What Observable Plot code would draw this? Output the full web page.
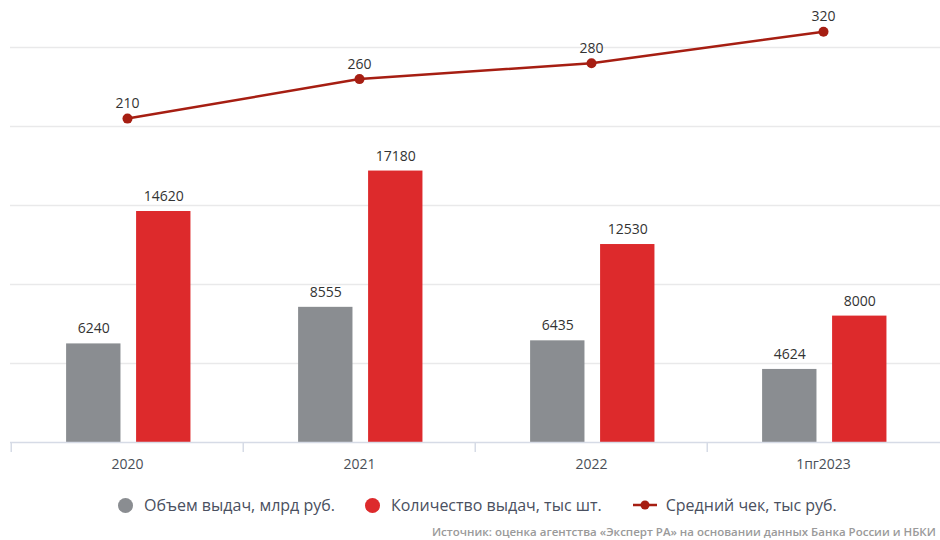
<!DOCTYPE html>
<html>
<head>
<meta charset="utf-8">
<script src="https://cdn.jsdelivr.net/npm/d3@7"></script>
<script src="https://cdn.jsdelivr.net/npm/@observablehq/plot@0.6"></script>
<style>
  body { margin: 0; background: #fff; font-family: "Open Sans", Roboto, sans-serif; }
  #wrap { position: relative; width: 940px; height: 540px; overflow: hidden; }
  #chart { position: absolute; top: 0; left: 0; }
  #legend { position: absolute; top: 494px; left: 118px; display: flex; align-items: center; font-size: 16px; color: #4a5060; white-space: nowrap; }
  .item { display: flex; align-items: center; margin-right: 30px; }
  .dot { width: 15px; height: 15px; border-radius: 50%; margin-right: 11px; }
  #source { position: absolute; top: 524px; left: 432px; font-size: 11.5px; color: #9a9a9a; white-space: nowrap; font-weight: 600; }
</style>
</head>
<body>
<div id="wrap">
  <div id="chart"></div>
  <div id="legend"></div>
  <div id="source">Источник: оценка агентства «Эксперт РА» на основании данных Банка России и НБКИ</div>
</div>
<script>
const years = ["2020", "2021", "2022", "1пг2023"];
const volume = [6240, 8555, 6435, 4624];      // Объем выдач, млрд руб.
const count = [14620, 17180, 12530, 8000];    // Количество выдач, тыс шт.
const avgCheck = [210, 260, 280, 320];        // Средний чек, тыс руб.
const seriesNames = ["Объем выдач, млрд руб.", "Количество выдач, тыс шт.", "Средний чек, тыс руб."];
const colors = ["#8a8d91", "#dd2a2c", "#a61e12"];
const gridTicks = [5000, 10000, 15000, 20000, 25000];

// secondary (hidden) axis for the average check, mapped onto the primary scale
const avgScale = d3.scaleLinear().domain([-200, 350]).range([0, 27500]);

const volData = years.map((y, i) => ({year: y, value: volume[i]}));
const cntData = years.map((y, i) => ({year: y, value: count[i]}));
const avgData = years.map((y, i) => ({year: y, value: avgCheck[i], pos: avgScale(avgCheck[i])}));

const W = 940, H = 482, mL = 10, mR = 0;
const band = (W - mL - mR) / years.length;

const font = "'Open Sans', Roboto, sans-serif";
const plot = Plot.plot({
  width: W,
  height: H,
  marginLeft: mL,
  marginRight: mR,
  marginTop: 47,
  marginBottom: 40,
  style: {fontFamily: font, background: "#fff"},
  x: {domain: years, padding: 0, axis: null},
  y: {domain: [0, 25000], axis: null},
  marks: [
    Plot.ruleY(gridTicks, {stroke: "#e9e9ea", strokeWidth: 1.5}),
    Plot.barY(volData, {x: "year", y: "value", fill: colors[0], insetLeft: band * 0.237, insetRight: band * 0.527}),
    Plot.barY(cntData, {x: "year", y: "value", fill: colors[1], insetLeft: band * 0.538, insetRight: band * 0.226}),
    Plot.ruleY([0], {stroke: "#d6dbe6", strokeWidth: 1.5}),
    Plot.axisX({tickSize: 10, stroke: "#d6dbe6", strokeWidth: 1.5, text: null, label: null, dx: -band / 2}),
    Plot.axisX({tickSize: 0, tickPadding: 17, fontSize: 14, fill: "#4a4f58", label: null}),
    Plot.text(volData, {x: "year", y: "value", text: d => String(d.value), dx: (band * 0.237 + (band - band * 0.237 - band * 0.527) / 2) - band / 2, dy: -15, fontSize: 14, fill: "#333"}),
    Plot.text(cntData, {x: "year", y: "value", text: d => String(d.value), dx: (band * 0.538 + (band - band * 0.538 - band * 0.226) / 2) - band / 2, dy: -15, fontSize: 14, fill: "#333"}),
    Plot.line(avgData, {x: "year", y: "pos", stroke: colors[2], strokeWidth: 2.5}),
    Plot.dot(avgData, {x: "year", y: "pos", r: 5, fill: colors[2]}),
    Plot.text(avgData, {x: "year", y: "pos", text: d => String(d.value), dy: -15, fontSize: 14, fill: "#333"})
  ]
});
document.getElementById("chart").appendChild(plot);

const legend = document.getElementById("legend");
seriesNames.forEach((name, i) => {
  const item = document.createElement("div");
  item.className = "item";
  let sym;
  if (i < 2) {
    sym = `<div class="dot" style="background:${colors[i]}"></div>`;
  } else {
    sym = `<svg width="26" height="12" style="margin-right:8px"><line x1="1" y1="6" x2="25" y2="6" stroke="${colors[i]}" stroke-width="2.5"/><circle cx="13" cy="6" r="4.5" fill="${colors[i]}"/></svg>`;
  }
  item.innerHTML = sym + `<span>${name}</span>`;
  legend.appendChild(item);
});
</script>
</body>
</html>
